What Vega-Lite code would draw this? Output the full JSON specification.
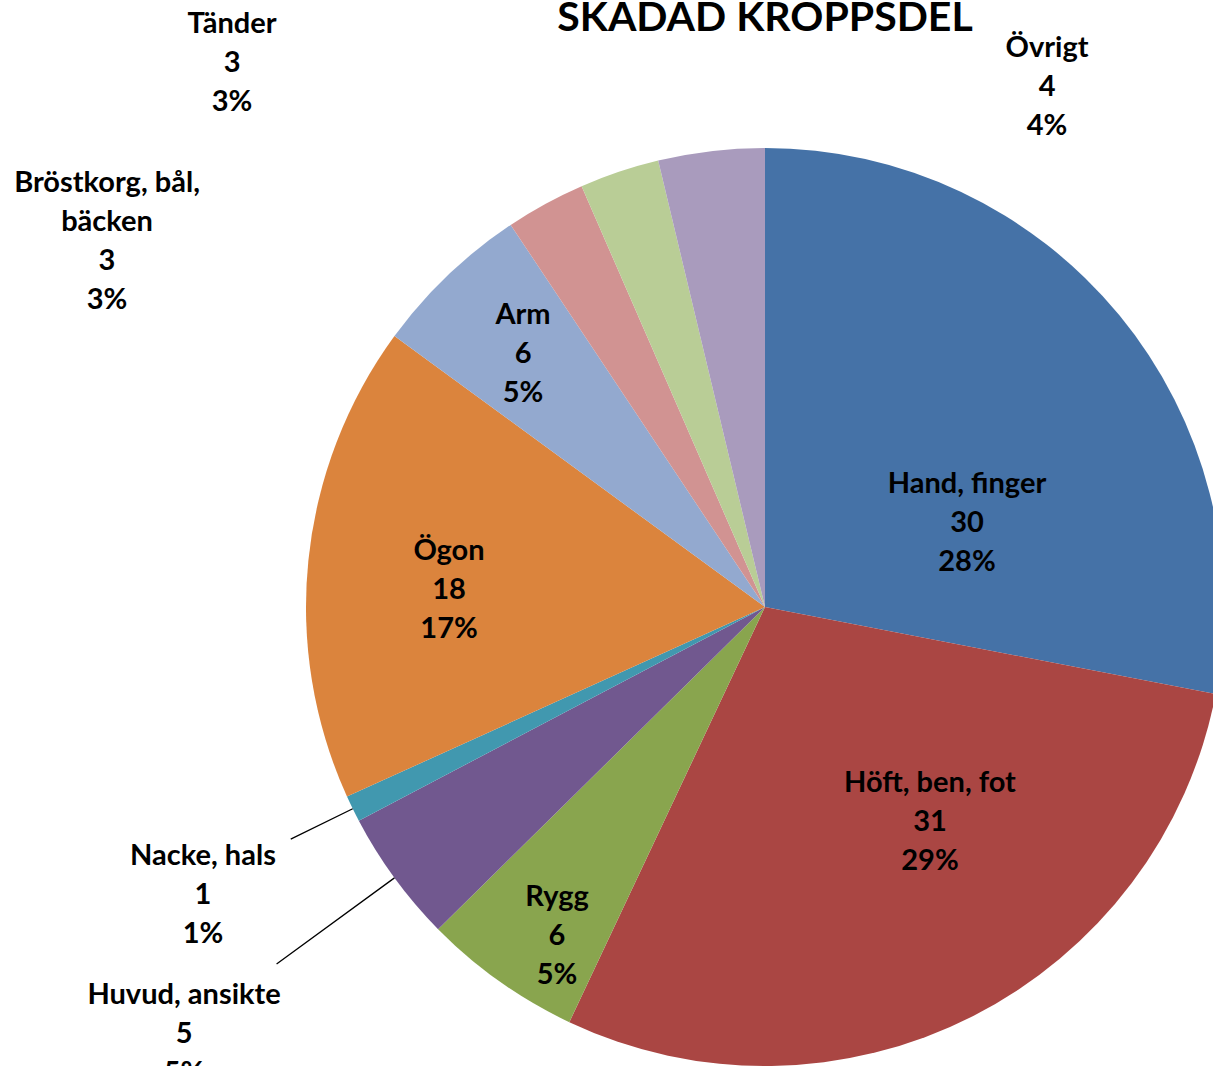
{
  "$schema": "https://vega.github.io/schema/vega-lite/v6.json",
  "width": 1530,
  "height": 1214,
  "autosize": {"type": "none"},
  "padding": {"left": 0, "top": 0, "right": -317, "bottom": -148},
  "background": "white",
  "title": {
    "text": "SKADAD KROPPSDEL",
    "font": "Lato",
    "fontSize": 41,
    "fontWeight": "bold",
    "color": "black",
    "anchor": "middle",
    "frame": "group",
    "orient": "top",
    "baseline": "alphabetic",
    "offset": -72
  },
  "config": {"view": {"stroke": null}},
  "data": {
    "values": [
      {"name": "Hand, finger", "count": 30, "pct": "28%", "order": 1},
      {"name": "Höft, ben, fot", "count": 31, "pct": "29%", "order": 2},
      {"name": "Rygg", "count": 6, "pct": "5%", "order": 3},
      {"name": "Huvud, ansikte", "count": 5, "pct": "5%", "order": 4},
      {"name": "Nacke, hals", "count": 1, "pct": "1%", "order": 5},
      {"name": "Ögon", "count": 18, "pct": "17%", "order": 6},
      {"name": "Arm", "count": 6, "pct": "5%", "order": 7},
      {"name": "Bröstkorg, bål, bäcken", "count": 3, "pct": "3%", "order": 8},
      {"name": "Tänder", "count": 3, "pct": "3%", "order": 9},
      {"name": "Övrigt", "count": 4, "pct": "4%", "order": 10}
    ]
  },
  "transform": [
    {"stack": "count", "groupby": [], "sort": [{"field": "order", "order": "ascending"}], "as": ["c0", "c1"]},
    {"calculate": "(datum.c0 + datum.c1) / 2", "as": "mid"},
    {"calculate": "replace(datum.name, 'bål, ', 'bål,\\n') + '\\n' + datum.count + '\\n' + datum.pct", "as": "label"}
  ],
  "layer": [
    {
      "mark": {"type": "arc", "radius": 459},
      "encoding": {
        "theta": {"field": "count", "type": "quantitative", "stack": true},
        "order": {"field": "order", "type": "quantitative"},
        "color": {
          "field": "name",
          "type": "nominal",
          "scale": {
            "domain": ["Hand, finger", "Höft, ben, fot", "Rygg", "Huvud, ansikte", "Nacke, hals", "Ögon", "Arm", "Bröstkorg, bål, bäcken", "Tänder", "Övrigt"],
            "range": ["#4572A7", "#AA4643", "#89A54E", "#71588F", "#4198AF", "#DB843D", "#93A9CF", "#D19392", "#B9CD96", "#A99BBD"]
          },
          "legend": null
        }
      }
    },
    {
      "transform": [{"filter": "datum.count <= 5 && datum.mid < 80"}],
      "mark": {"type": "arc", "radius2": 459, "fillOpacity": 0, "stroke": "black", "strokeWidth": 1.3},
      "encoding": {
        "theta": {"field": "mid", "type": "quantitative", "stack": null, "scale": {"domain": [0, 107], "nice": false, "zero": false}},
        "theta2": {"field": "mid"},
        "radius": {"field": "mid", "type": "quantitative", "scale": {"type": "linear", "domain": [69.5, 72.5], "range": [605, 528], "nice": false, "zero": false}}
      }
    },
    {
      "mark": {
        "type": "text",
        "font": "Lato",
        "fontSize": 29,
        "fontWeight": "bold",
        "lineHeight": 39,
        "lineBreak": "\n",
        "align": "center",
        "baseline": "middle",
        "color": "black"
      },
      "encoding": {
        "theta": {
          "field": "mid",
          "type": "quantitative",
          "stack": null,
          "scale": {
            "domain": [15, 45.5, 64, 69.5, 72.5, 82, 94, 98.5, 101.5, 105],
            "range": [1.0238, 2.3885, 3.7638, 4.1236, 4.2953, 4.8878, 5.5912, 5.2849, 5.5426, 6.7505],
            "nice": false,
            "zero": false
          }
        },
        "radius": {
          "field": "mid",
          "type": "quantitative",
          "scale": {
            "type": "linear",
            "domain": [15, 45.5, 64, 69.5, 72.5, 82, 94, 98.5, 101.5, 105],
            "range": [236.5, 241.2, 356.9, 698.6, 614.7, 320.9, 379.2, 782.8, 789.9, 626.1],
            "nice": false,
            "zero": false
          }
        },
        "text": {"field": "label", "type": "nominal"}
      }
    }
  ],
  "resolve": {"scale": {"theta": "independent", "radius": "independent"}}
}
